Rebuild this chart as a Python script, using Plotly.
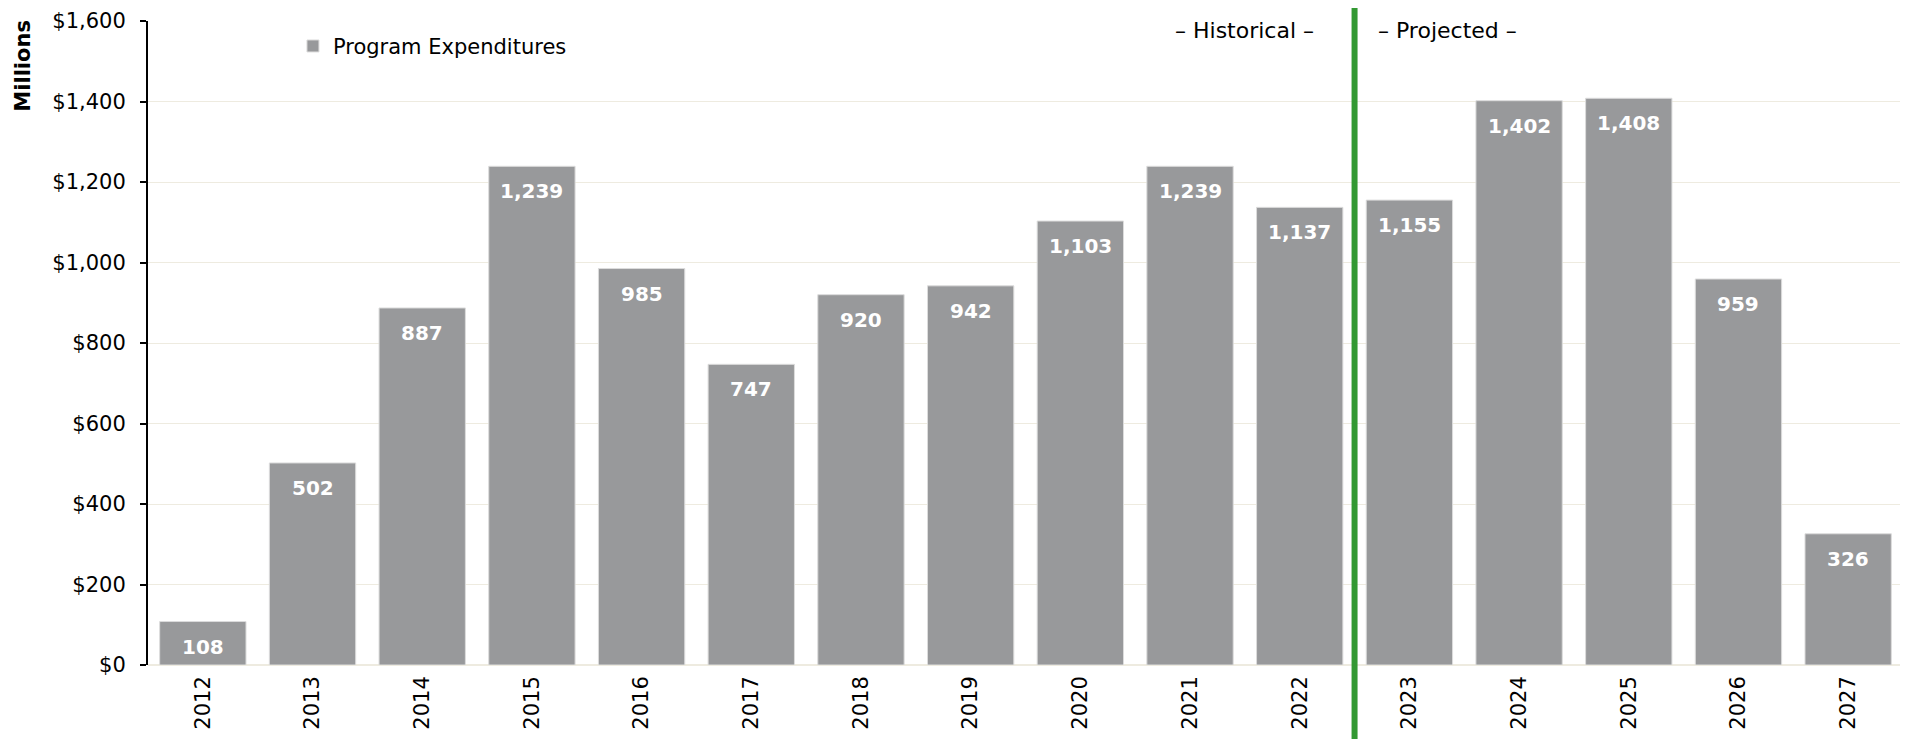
import plotly.graph_objects as go

years = ["2012", "2013", "2014", "2015", "2016", "2017", "2018", "2019",
         "2020", "2021", "2022", "2023", "2024", "2025", "2026", "2027"]
expenditures = [108, 502, 887, 1239, 985, 747, 920, 942,
                1103, 1239, 1137, 1155, 1402, 1408, 959, 326]
y_ticks = [0, 200, 400, 600, 800, 1000, 1200, 1400, 1600]
y_tick_labels = [f"${v:,}" for v in y_ticks]
divider_after = "2022"

FONT = "DejaVu Sans"
BAR = "#98999b"
GRID = "#eeebe0"

fig = go.Figure()
fig.add_trace(go.Bar(
    x=years, y=expenditures, name="Program Expenditures",
    marker=dict(color=BAR, line=dict(color="#dcdcdc", width=1)),
    hoverinfo="x+y",
))

# value labels inside the top of each bar
for i, v in enumerate(expenditures):
    fig.add_annotation(x=i, y=v, xref="x", yref="y", text=f"<b>{v:,}</b>",
                       showarrow=False, xanchor="center", yanchor="middle", yshift=-25,
                       font=dict(family=FONT, size=20, color="white"))

div_idx = years.index(divider_after) + 0.5
fig.add_shape(type="line", xref="x", yref="paper", x0=div_idx, x1=div_idx,
              y0=-0.12, y1=1.03, line=dict(color="#339933", width=6))

fig.add_annotation(text="– Historical –", xref="x", yref="paper", x=div_idx, y=0.9845,
                   xshift=-39, showarrow=False, xanchor="right", yanchor="middle",
                   font=dict(family=FONT, size=22, color="black"))
fig.add_annotation(text="– Projected –", xref="x", yref="paper", x=div_idx, y=0.9845,
                   xshift=21, showarrow=False, xanchor="left", yanchor="middle",
                   font=dict(family=FONT, size=22, color="black"))
fig.add_annotation(text="<b>Millions</b>", xref="paper", yref="paper", x=-0.0711, y=0.931,
                   showarrow=False, textangle=-90, xanchor="center", yanchor="middle",
                   font=dict(family=FONT, size=21, color="black"))

# the page body adds an 8px margin, so the figure is sized to fill the rest of the window
fig.update_layout(
    width=1900, height=731,
    margin=dict(l=140, r=5, t=13, b=74, autoexpand=False),
    paper_bgcolor="white", plot_bgcolor="white",
    font=dict(family=FONT, size=21, color="black"),
    bargap=0.213,
    showlegend=True,
    legend=dict(x=0.0826, y=0.9607, xanchor="left", yanchor="middle",
                bgcolor="rgba(0,0,0,0)", font=dict(family=FONT, size=21),
                itemwidth=30),
)
fig.update_xaxes(type="category", range=[-0.5, 15.5], tickangle=-90,
                 showline=False, ticks="", showgrid=False,
                 ticklabelstandoff=6,
                 tickfont=dict(family=FONT, size=21))
fig.update_yaxes(range=[0, 1600], tickmode="array", tickvals=y_ticks, ticktext=y_tick_labels,
                 showgrid=True, gridcolor=GRID, gridwidth=1,
                 showline=True, linecolor="black", linewidth=2,
                 ticks="outside", ticklen=6, tickcolor="black", tickwidth=2,
                 ticklabelstandoff=10,
                 zeroline=True, zerolinecolor=GRID, zerolinewidth=2,
                 tickfont=dict(family=FONT, size=21))

fig.write_html("out.html")
